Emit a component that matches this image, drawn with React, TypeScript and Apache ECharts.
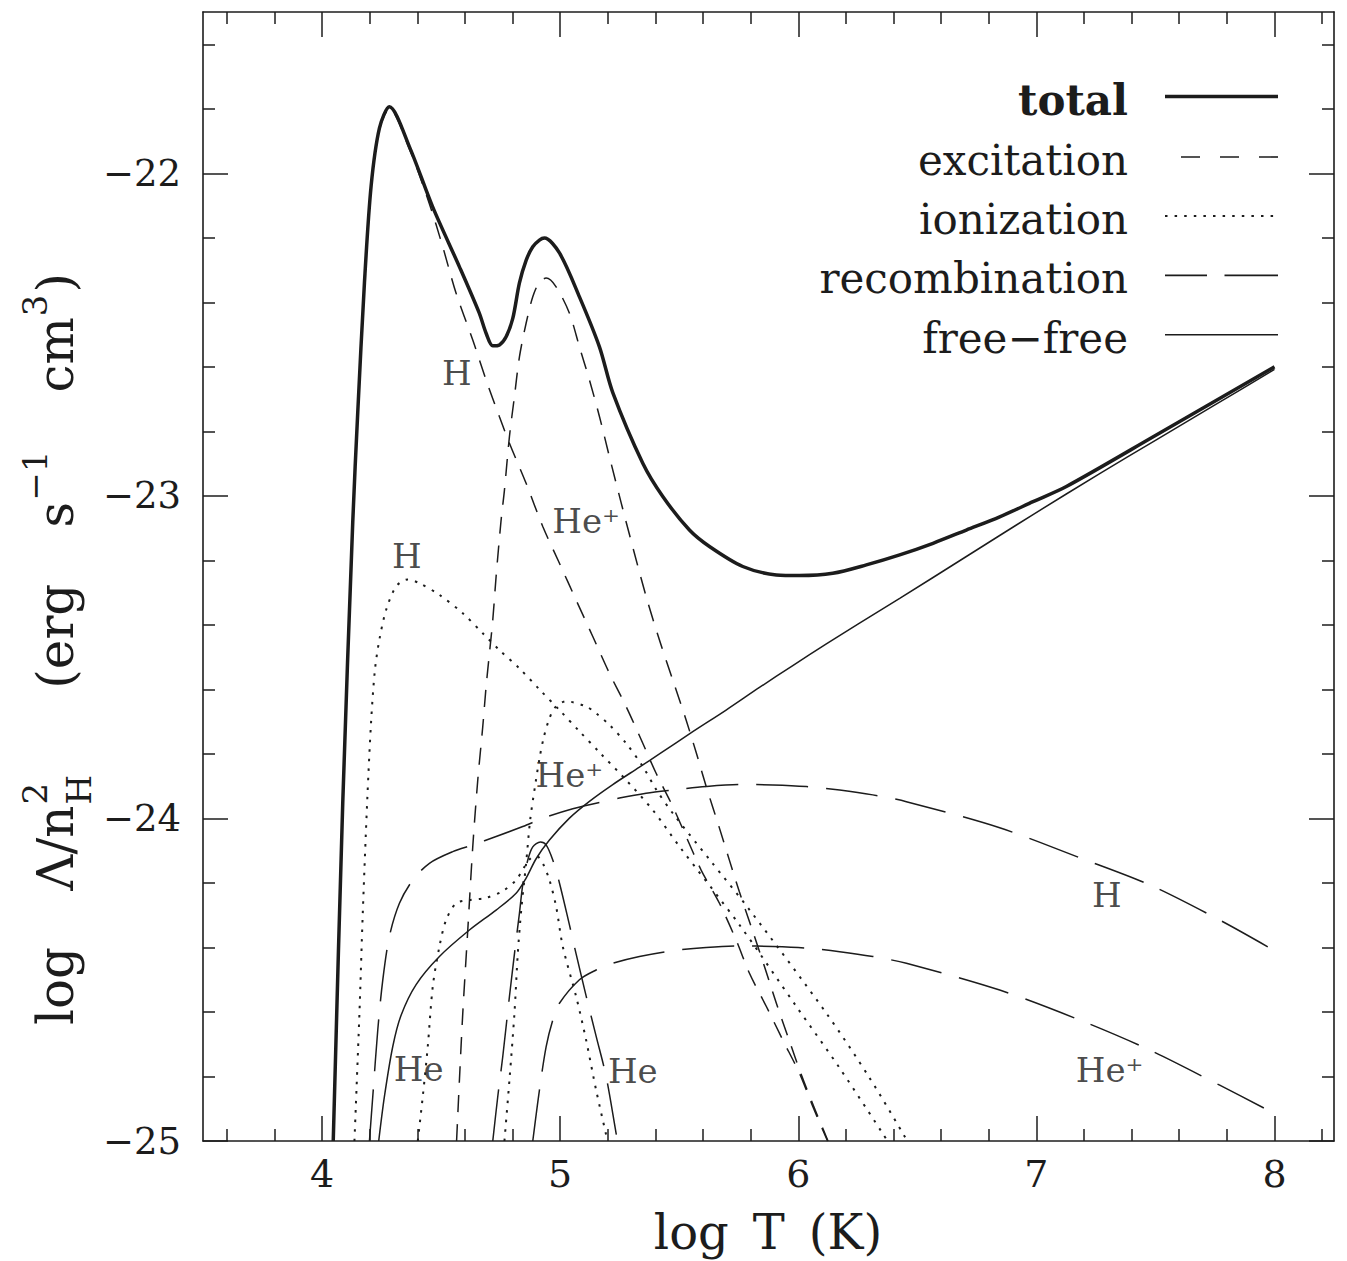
import React, { useEffect, useRef } from "react";
import * as echarts from "echarts";

// ---------------- data ----------------
const X_MAJOR = [4, 5, 6, 7, 8];
const X_MINOR = [3.6, 3.8, 4.2, 4.4, 4.6, 4.8, 5.2, 5.4, 5.6, 5.8, 6.2, 6.4, 6.6, 6.8, 7.2, 7.4, 7.6, 7.8, 8.2];
const Y_MAJOR = [-25, -24, -23, -22];
const Y_MINOR = [-24.8, -24.6, -24.4, -24.2, -23.8, -23.6, -23.4, -23.2, -22.8, -22.6, -22.4, -22.2, -21.8, -21.6];

const total = [
  [4.047, -25.0], [4.087, -23.95], [4.129, -23.08], [4.15, -22.74], [4.178, -22.34], [4.206, -22.04],
  [4.241, -21.86], [4.283, -21.794], [4.367, -21.918], [4.465, -22.105], [4.577, -22.29], [4.66, -22.433],
  [4.689, -22.496], [4.717, -22.535], [4.745, -22.532], [4.773, -22.507], [4.801, -22.45], [4.829, -22.34],
  [4.857, -22.27], [4.885, -22.228], [4.913, -22.207], [4.934, -22.201], [4.997, -22.247],
  [5.081, -22.383], [5.165, -22.538], [5.221, -22.68], [5.347, -22.899], [5.431, -23.002], [5.543, -23.106],
  [5.627, -23.157], [5.767, -23.219], [5.908, -23.245], [6.005, -23.247], [6.145, -23.24], [6.286, -23.214],
  [6.426, -23.183], [6.566, -23.147], [6.706, -23.106], [6.846, -23.065], [6.986, -23.018], [7.126, -22.971],
  [7.5, -22.813], [8.0, -22.6],
];

const excitationH = [
  [4.047, -25.0], [4.087, -23.95], [4.129, -23.085], [4.15, -22.745], [4.178, -22.345], [4.206, -22.045],
  [4.241, -21.865], [4.283, -21.8], [4.367, -21.925], [4.451, -22.095], [4.507, -22.228], [4.563, -22.372],
  [4.633, -22.517], [4.689, -22.641], [4.745, -22.755], [4.787, -22.837], [4.857, -22.961], [4.927, -23.095],
  [4.997, -23.209], [5.067, -23.323], [5.137, -23.436], [5.207, -23.55], [5.277, -23.653], [5.347, -23.767],
  [5.403, -23.86], [5.473, -23.963], [5.529, -24.056], [5.592, -24.16], [5.669, -24.263], [5.739, -24.377],
  [5.795, -24.48], [5.866, -24.583], [5.935, -24.687], [6.005, -24.79], [6.061, -24.893], [6.123, -25.0],
];

const excitationHep = [
  [4.565, -25.0], [4.577, -24.81], [4.591, -24.604], [4.612, -24.346], [4.633, -24.087], [4.654, -23.881],
  [4.675, -23.715], [4.689, -23.591], [4.703, -23.488], [4.717, -23.385], [4.731, -23.25], [4.752, -23.075],
  [4.766, -22.982], [4.787, -22.816], [4.808, -22.692], [4.829, -22.569], [4.857, -22.465], [4.885, -22.383],
  [4.913, -22.337], [4.941, -22.325], [4.983, -22.352], [5.039, -22.434], [5.081, -22.538], [5.123, -22.641],
  [5.165, -22.754], [5.207, -22.879], [5.256, -23.021], [5.291, -23.12], [5.361, -23.312], [5.417, -23.447],
  [5.473, -23.571], [5.529, -23.695], [5.571, -23.795], [5.613, -23.9], [5.669, -24.03], [5.711, -24.13],
  [5.753, -24.228], [5.809, -24.35], [5.858, -24.459], [5.908, -24.573], [5.963, -24.69], [6.013, -24.795],
  [6.069, -24.9], [6.125, -25.0],
];

const ionizationH = [
  [4.136, -25.0], [4.157, -24.604], [4.171, -24.294], [4.19, -23.94], [4.206, -23.7], [4.222, -23.54],
  [4.241, -23.445], [4.269, -23.354], [4.311, -23.281], [4.36, -23.259], [4.409, -23.271], [4.493, -23.307],
  [4.591, -23.364], [4.675, -23.426], [4.745, -23.478], [4.829, -23.535], [4.913, -23.6], [4.997, -23.664],
  [5.081, -23.73], [5.165, -23.795], [5.277, -23.881], [5.389, -23.974], [5.501, -24.087], [5.753, -24.33],
  [5.992, -24.583], [6.173, -24.773], [6.375, -25.0],
];

const ionizationHe = [
  [4.402, -25.0], [4.423, -24.862], [4.444, -24.707], [4.465, -24.521], [4.493, -24.397], [4.521, -24.315],
  [4.563, -24.263], [4.619, -24.253], [4.689, -24.246], [4.759, -24.225], [4.815, -24.191], [4.85, -24.15],
  [4.879, -24.122], [4.905, -24.119], [4.927, -24.139], [4.955, -24.191], [4.983, -24.273], [5.011, -24.397],
  [5.067, -24.552], [5.109, -24.687], [5.151, -24.842], [5.199, -25.0],
];

const ionizationHep = [
  [4.766, -25.0], [4.787, -24.811], [4.808, -24.604], [4.822, -24.42], [4.837, -24.28], [4.857, -24.139],
  [4.874, -24.005], [4.892, -23.912], [4.913, -23.815], [4.932, -23.746], [4.955, -23.69], [4.98, -23.655],
  [5.025, -23.637], [5.109, -23.653], [5.151, -23.674], [5.207, -23.71], [5.277, -23.767], [5.347, -23.839],
  [5.403, -23.91], [5.473, -23.984], [5.63, -24.13], [5.796, -24.284], [6.118, -24.604], [6.3, -24.805],
  [6.458, -25.0],
];

const recombinationH = [
  [4.199, -25.0], [4.213, -24.862], [4.234, -24.656], [4.255, -24.501], [4.283, -24.365], [4.325, -24.263],
  [4.381, -24.191], [4.451, -24.139], [4.549, -24.103], [4.633, -24.082], [4.731, -24.056], [4.843, -24.025],
  [4.941, -23.996], [5.053, -23.97], [5.151, -23.953], [5.249, -23.937], [5.361, -23.922], [5.473, -23.912],
  [5.613, -23.901], [5.753, -23.895], [5.893, -23.896], [6.034, -23.901], [6.174, -23.912], [6.313, -23.927],
  [6.454, -23.948], [6.846, -24.029], [7.182, -24.122], [7.476, -24.206], [7.77, -24.315], [7.972, -24.398],
];

const recombinationHe = [
  [4.717, -25.0], [4.738, -24.862], [4.759, -24.738], [4.787, -24.552], [4.815, -24.377], [4.829, -24.294],
  [4.843, -24.205], [4.864, -24.129], [4.885, -24.088], [4.917, -24.073], [4.941, -24.082], [4.969, -24.129],
  [4.997, -24.2], [5.039, -24.33], [5.067, -24.42], [5.109, -24.55], [5.151, -24.675], [5.193, -24.8],
  [5.235, -24.976], [5.241, -25.0],
];

const recombinationHep = [
  [4.885, -25.0], [4.913, -24.842], [4.941, -24.708], [4.969, -24.625], [4.997, -24.573], [5.081, -24.5],
  [5.151, -24.47], [5.221, -24.449], [5.333, -24.428], [5.473, -24.41], [5.613, -24.4], [5.753, -24.395],
  [5.893, -24.397], [6.034, -24.402], [6.174, -24.413], [6.313, -24.428], [6.454, -24.449], [6.846, -24.532],
  [7.182, -24.625], [7.476, -24.718], [7.77, -24.827], [7.972, -24.904],
];

const freeFree = [
  [4.238, -25.0], [4.262, -24.862], [4.297, -24.707], [4.332, -24.61], [4.395, -24.515], [4.493, -24.428],
  [4.619, -24.346], [4.731, -24.284], [4.815, -24.232], [4.857, -24.185], [4.899, -24.125], [4.955, -24.067],
  [5.039, -23.999], [5.123, -23.947], [5.221, -23.895], [5.333, -23.841], [5.417, -23.8], [5.557, -23.731],
  [5.697, -23.664], [5.837, -23.594], [5.977, -23.526], [6.118, -23.459], [6.259, -23.394], [6.426, -23.318],
  [6.706, -23.188], [6.986, -23.058], [7.266, -22.931], [7.5, -22.828], [7.75, -22.718], [8.0, -22.608],
];

const curveLabels = [
  { text: "H", x: 4.566, y: -22.62 },
  { text: "He⁺", x: 5.109, y: -23.077 },
  { text: "H", x: 4.356, y: -23.185 },
  { text: "He⁺", x: 5.039, y: -23.865 },
  { text: "He", x: 4.406, y: -24.778 },
  { text: "He", x: 5.305, y: -24.783 },
  { text: "H", x: 7.296, y: -24.237 },
  { text: "He⁺", x: 7.308, y: -24.78 },
];

const legendNames = ["total", "excitation", "ionization", "recombination", "free−free"];

// ---------------- styles ----------------
const INK = "#1c1c1c";
const SERIF = "DejaVu Serif";
const EXC_DASH = [17, 12];
const ION_DASH = [2.5, 7];
const REC_DASH = [52, 18];

function measure(text: string, font: string): number {
  const ctx = document.createElement("canvas").getContext("2d")!;
  ctx.font = font;
  return ctx.measureText(text).width;
}

// y-axis title, laid out piece by piece (rotated to read bottom-to-top)
function buildYTitle(): any[] {
  const big = 50;
  const small = 34;
  const bigFont = `${big}px "${SERIF}"`;
  const smallFont = `${small}px "${SERIF}"`;
  const xc = 56;
  const start = 1025;
  const end = 273;
  const els: any[] = [];
  const put = (text: string, size: number, x: number, y: number) => {
    els.push({
      type: "text",
      x,
      y,
      rotation: Math.PI / 2,
      silent: true,
      style: { text, fontSize: size, fontFamily: SERIF, fill: INK, align: "left", verticalAlign: "middle" },
    });
  };
  const pieces: any[] = [
    { k: "m", t: "log" },
    { k: "gap", w: 1 },
    { k: "m", t: "Λ/n" },
    { k: "subsup", sub: "H", sup: "2" },
    { k: "gap", w: 1.5 },
    { k: "m", t: "(erg" },
    { k: "gap", w: 1 },
    { k: "m", t: "s" },
    { k: "sup", t: "−1" },
    { k: "gap", w: 1 },
    { k: "m", t: "cm" },
    { k: "sup", t: "3" },
    { k: "m", t: ")" },
  ];
  const widthOf = (p: any) => {
    if (p.k === "m") return measure(p.t, bigFont);
    if (p.k === "sup") return measure(p.t, smallFont) + 3;
    if (p.k === "subsup") return Math.max(measure(p.sub, smallFont), measure(p.sup, smallFont)) + 3;
    return 0;
  };
  let natural = 0;
  let weights = 0;
  pieces.forEach((p) => {
    natural += widthOf(p);
    if (p.k === "gap") weights += p.w;
  });
  const unit = Math.max(0, (start - end - natural) / weights);
  let cur = start;
  pieces.forEach((p) => {
    if (p.k === "gap") {
      cur -= unit * p.w;
      return;
    }
    if (p.k === "m") put(p.t, big, xc, cur);
    else if (p.k === "sup") put(p.t, small, xc - 21, cur - 1);
    else if (p.k === "subsup") {
      put(p.sub, small, xc + 23, cur - 1);
      put(p.sup, small, xc - 21, cur - 1);
    }
    cur -= widthOf(p);
  });
  return els;
}

function buildLegend(): any[] {
  const els: any[] = [];
  const lineYs = [96.6, 157, 216, 275.4, 334.7];
  const styles: any[] = [
    { lineWidth: 3.5 },
    { lineWidth: 1.6, lineDash: [19, 20], lineDashOffset: 23 },
    { lineWidth: 2, lineDash: [2.5, 7.1] },
    { lineWidth: 1.6, lineDash: [54, 17.5], lineDashOffset: 12 },
    { lineWidth: 1.6 },
  ];
  legendNames.forEach((name, i) => {
    const y = lineYs[i];
    els.push({
      type: "text",
      x: 1128,
      y: y + 3.5,
      silent: true,
      style: {
        text: name,
        fontSize: 42,
        fontFamily: SERIF,
        fontWeight: i === 0 ? "bold" : "normal",
        fill: INK,
        align: "right",
        verticalAlign: "middle",
      },
    });
    els.push({
      type: "line",
      silent: true,
      shape: { x1: 1165, y1: y, x2: 1278, y2: y },
      style: { stroke: INK, ...styles[i] },
    });
  });
  return els;
}

function xAx(position: string, values: number[], len: number, withLine: boolean, withLabel: boolean) {
  return {
    type: "value",
    min: 3.5,
    max: 8.25,
    position,
    axisLine: { show: withLine, onZero: false, lineStyle: { color: INK, width: 1.6 } },
    axisTick: { show: true, inside: true, length: len, customValues: values, lineStyle: { color: INK, width: 1.5 } },
    axisLabel: {
      show: withLabel,
      customValues: values,
      margin: 14,
      fontSize: 38,
      fontFamily: SERIF,
      color: INK,
    },
    splitLine: { show: false },
  };
}

function yAx(position: string, values: number[], len: number, withLine: boolean, withLabel: boolean) {
  return {
    type: "value",
    min: -25,
    max: -21.5,
    position,
    axisLine: { show: withLine, onZero: false, lineStyle: { color: INK, width: 1.6 } },
    axisTick: { show: true, inside: true, length: len, customValues: values, lineStyle: { color: INK, width: 1.5 } },
    axisLabel: {
      show: withLabel,
      customValues: values,
      margin: 22,
      fontSize: 37,
      fontFamily: SERIF,
      color: INK,
      formatter: (v: number) => String(v).replace("-", "−"),
    },
    splitLine: { show: false },
  };
}

function lineSeries(name: string, data: number[][], lineStyle: any, z = 3) {
  return {
    type: "line",
    name,
    data,
    showSymbol: false,
    symbol: "none",
    smooth: 0.3,
    lineStyle: { color: INK, ...lineStyle },
    silent: true,
    z,
  };
}

export default function App() {
  const ref = useRef<HTMLDivElement>(null);
  useEffect(() => {
    document.body.style.margin = "0";
    const chart = echarts.init(ref.current!, null, { renderer: "svg" });
    chart.setOption({
      animation: false,
      backgroundColor: "#ffffff",
      grid: { left: 203, right: 13, top: 12, bottom: 120, containLabel: false },
      xAxis: [
        xAx("bottom", X_MAJOR, 25, true, true),
        xAx("bottom", X_MINOR, 12, false, false),
        xAx("top", X_MAJOR, 25, true, false),
        xAx("top", X_MINOR, 12, false, false),
      ],
      yAxis: [
        yAx("left", Y_MAJOR, 25, true, true),
        yAx("left", Y_MINOR, 12, false, false),
        yAx("right", Y_MAJOR, 25, true, false),
        yAx("right", Y_MINOR, 12, false, false),
      ],
      series: [
        lineSeries("excitation H", excitationH, { width: 1.5, type: EXC_DASH }),
        lineSeries("excitation He+", excitationHep, { width: 1.5, type: EXC_DASH }),
        lineSeries("ionization H", ionizationH, { width: 2, type: ION_DASH }),
        lineSeries("ionization He", ionizationHe, { width: 2, type: ION_DASH }),
        lineSeries("ionization He+", ionizationHep, { width: 2, type: ION_DASH }),
        lineSeries("recombination H", recombinationH, { width: 1.5, type: REC_DASH }),
        lineSeries("recombination He", recombinationHe, { width: 1.5, type: REC_DASH }),
        lineSeries("recombination He+", recombinationHep, { width: 1.5, type: REC_DASH }),
        lineSeries("free-free", freeFree, { width: 1.5, type: "solid" }),
        lineSeries("total", total, { width: 3.5, type: "solid" }, 5),
        {
          type: "scatter",
          name: "labels",
          data: curveLabels.map((p) => ({ name: p.text, value: [p.x, p.y] })),
          symbolSize: 1,
          itemStyle: { color: "rgba(0,0,0,0)" },
          silent: true,
          z: 6,
          label: {
            show: true,
            position: "inside",
            formatter: "{b}",
            fontSize: 34,
            fontFamily: SERIF,
            color: INK,
          },
        },
      ],
      graphic: [
        ...buildLegend(),
        ...buildYTitle(),
        {
          type: "text",
          x: 768,
          y: 1232,
          silent: true,
          style: {
            text: "log\u2002T\u2002(K)",
            fontSize: 48,
            fontFamily: SERIF,
            fill: INK,
            align: "center",
            verticalAlign: "middle",
          },
        },
      ],
    });
    return () => chart.dispose();
  }, []);
  return <div ref={ref} style={{ position: "absolute", left: 0, top: 0, width: 1347, height: 1261 }} />;
}
